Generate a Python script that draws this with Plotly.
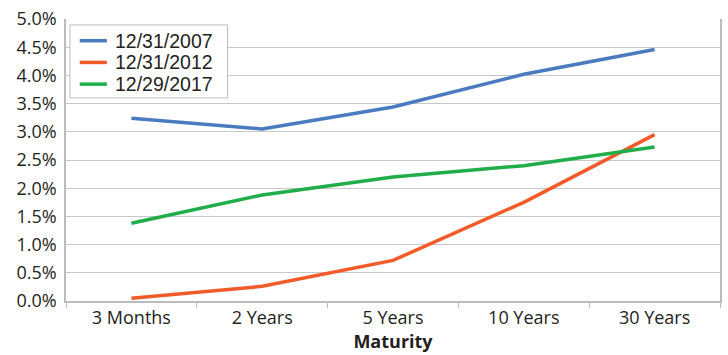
import plotly.graph_objects as go

# Treasury yield curves by maturity (percent)
maturities = ["3 Months", "2 Years", "5 Years", "10 Years", "30 Years"]
series_names = ["12/31/2007", "12/31/2012", "12/29/2017"]
yields_2007 = [3.24, 3.05, 3.44, 4.02, 4.46]
yields_2012 = [0.05, 0.26, 0.72, 1.75, 2.95]
yields_2017 = [1.38, 1.88, 2.20, 2.40, 2.73]
y_ticks = [0.0, 0.5, 1.0, 1.5, 2.0, 2.5, 3.0, 3.5, 4.0, 4.5, 5.0]
y_tick_labels = [f"{v:.1f}%" for v in y_ticks]

colors = ["#4a7bbf", "#f15a29", "#20ae4b"]
font_family = "Open Sans, Noto Sans, sans-serif"
legend_family = "Liberation Sans, Arial, sans-serif"
text_color = "#231f20"

fig = go.Figure()
for name, vals, col in zip(series_names, [yields_2007, yields_2012, yields_2017], colors):
    fig.add_trace(go.Scatter(
        x=maturities, y=vals, name=name, mode="lines",
        line=dict(color=col, width=3.5), showlegend=False,
    ))

# Compact boxed legend in the upper-left corner of the plot area
box_x0, box_x1, box_y0, box_y1 = 0.006, 0.247, 0.720, 0.979
row_y = [0.923, 0.846, 0.769]
fig.add_shape(type="rect", xref="paper", yref="paper",
              x0=box_x0, x1=box_x1, y0=box_y0, y1=box_y1,
              line=dict(color="#bcbcbc", width=1), fillcolor="white", layer="above")
for name, col, yy in zip(series_names, colors, row_y):
    fig.add_shape(type="line", xref="paper", yref="paper",
                  x0=0.021, x1=0.0625, y0=yy, y1=yy,
                  line=dict(color=col, width=3.5), layer="above")
    fig.add_annotation(xref="paper", yref="paper", x=0.074, y=yy,
                       text=name, showarrow=False, xanchor="left", yanchor="middle",
                       borderpad=0,
                       font=dict(size=19.5, color=text_color, family=legend_family))

fig.update_layout(
    width=728, height=355,
    margin=dict(l=66, r=6, t=15, b=54),
    paper_bgcolor="white", plot_bgcolor="white",
    font=dict(family=font_family, size=18, color=text_color),
    xaxis=dict(
        type="category", range=[-0.5, 4.5],
        showline=True, linecolor="#bcbcbc", linewidth=1.5,
        ticks="outside", tickson="boundaries", ticklen=5, tickcolor="#bcbcbc",
        showgrid=False,
        title=dict(text="<b>Maturity</b>", font=dict(size=18), standoff=4),
        tickfont=dict(size=18),
    ),
    yaxis=dict(
        range=[0, 5.0], tickvals=y_ticks, ticktext=y_tick_labels,
        showline=True, linecolor="#bcbcbc", linewidth=1.5, mirror=True,
        showgrid=True, gridcolor="#c8c8c8", gridwidth=1.2,
        zeroline=False, ticks="", ticklabelstandoff=4, tickfont=dict(size=18),
    ),
)

fig.write_html("out.html")
